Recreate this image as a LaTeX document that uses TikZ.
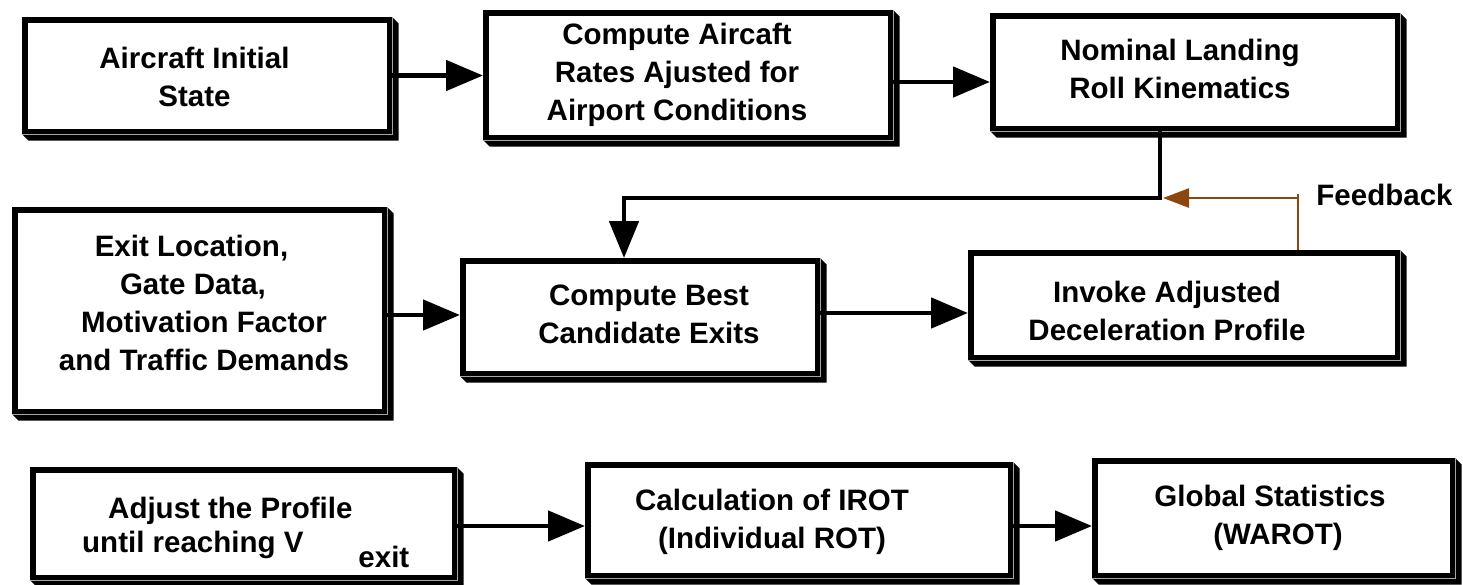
\documentclass[tikz,border=0pt]{standalone}
\usepackage{fontspec}
\setmainfont{Liberation Sans}
\usetikzlibrary{arrows.meta,backgrounds}
\definecolor{fbbrown}{RGB}{140,70,15}
\begin{document}
\begin{tikzpicture}[x=1pt,y=-1pt,
  panel/.style={rectangle, draw=black, line width=5.5pt, fill=white, inner sep=0pt},
  txt/.style={font=\fontsize{29.5}{38}\selectfont\bfseries, align=center, inner sep=0pt},
  flow/.style={line width=4.8pt, line join=miter, -{Triangle[length=37pt,width=30pt]}},
  flowdown/.style={line width=4.8pt, line join=miter, -{Triangle[length=37pt,width=29pt]}},
  fbline/.style={draw=fbbrown, line width=2.5pt},
  fbtip/.style={-{Triangle[length=26pt,width=19pt]}, fbbrown},
  seam/.style={draw=black!35, line width=0.9pt}]
\useasboundingbox (0,0) rectangle (1463,584);

% process boxes
\node[panel, minimum width=364.5pt, minimum height=111.5pt] (init)    at (207,75.5)    {};
\node[panel, minimum width=404.5pt, minimum height=124.5pt] (rates)   at (688,75)      {};
\node[panel, minimum width=404.5pt, minimum height=112.5pt] (nominal) at (1195,72)     {};
\node[panel, minimum width=369.5pt, minimum height=201.5pt] (exitloc) at (199.5,310.5) {};
\node[panel, minimum width=354.5pt, minimum height=112.5pt] (best)    at (640,317)     {};
\node[panel, minimum width=426.5pt, minimum height=104.5pt] (invoke)  at (1184,305)    {};
\node[panel, minimum width=421.5pt, minimum height=107.5pt] (adjust)  at (243.5,523.5) {};
\node[panel, minimum width=422.5pt, minimum height=110.5pt] (calc)    at (799,520)     {};
\node[panel, minimum width=357.5pt, minimum height=114.5pt] (global)  at (1273.5,518)  {};

% extruded shadow behind every box
\begin{scope}[on background layer]
\foreach \n in {init,rates,nominal,exitloc,best,invoke,adjust,calc,global}{
  \fill[black] (\n.north east) -- ([shift={(6.5,6.5)}]\n.north east)
    -- ([shift={(6.5,6.5)}]\n.south east) -- ([shift={(6.5,6.5)}]\n.south west)
    -- (\n.south west) -- cycle;
}
\end{scope}
\foreach \n in {init,rates,nominal,exitloc,best,invoke,adjust,calc,global}{
  \draw[seam] (\n.north east) -- (\n.south east) -- (\n.south west);
}

% box texts
\node[txt] (initT)    at (194.5,77) {Aircraft Initial\\State};
\node[txt] (ratesT)   at (677,75)   {Compute Aircaft\\Rates Ajusted for\\Airport Conditions};
\node[txt] (nominalT) at (1180,69)  {Nominal Landing\\Roll Kinematics};
\node[txt] (exitlocT) at (204,303)  {Exit Location,\makebox[25pt]{}\\Gate Data,\makebox[22pt]{}\\Motivation Factor\\and Traffic Demands};
\node[txt] (bestT)    at (649,314)  {Compute Best\\Candidate Exits};
\node[txt] (invokeT)  at (1167,311) {Invoke Adjusted\\Deceleration Profile};
\node[txt, align=left, anchor=north west] (adjustT) at (82,497)
  {\hspace*{26pt}Adjust the Profile\\[-4pt]until reaching V\hspace{55pt}\raisebox{-15pt}{exit}};
\node[txt] (calcT)    at (772,522)  {Calculation of IROT\\(Individual ROT)};
\node[txt] (globalT)  at (1270,518) {Global Statistics\\\hspace*{16pt}(WAROT)};
\node[txt] (fbT)      at (1384.5,195) {Feedback};

% connector rows and junctions
\coordinate (rowA) at (0,82);
\coordinate (rowB) at (0,313);
\coordinate (rowE) at (0,315);
\coordinate (rowC) at (0,526);
\coordinate (j) at (1160,198);
\coordinate (k) at (624,198);
\coordinate (fb) at (1298,194);

\draw[flow] (init.east) -- (init.east -| rates.west);
\draw[flow] (rates.east |- rowA) -- (nominal.west |- rowA);
\draw[flowdown] (nominal.south -| j) -- (j) -- (k) -- (k |- best.north);
\draw[flow] (exitloc.east |- rowE) -- (best.west |- rowE);
\draw[flow] (best.east |- rowB) -- (invoke.west |- rowB);
\draw[flow] (adjust.east |- rowC) -- (calc.west |- rowC);
\draw[flow] (calc.east |- rowC) -- (global.west |- rowC);

% feedback loop
\draw[fbline] (invoke.north -| fb) -- (fb);
\draw[fbline, fbtip] (fb |- j) -- ([xshift=3pt]j);
\end{tikzpicture}
\end{document}
